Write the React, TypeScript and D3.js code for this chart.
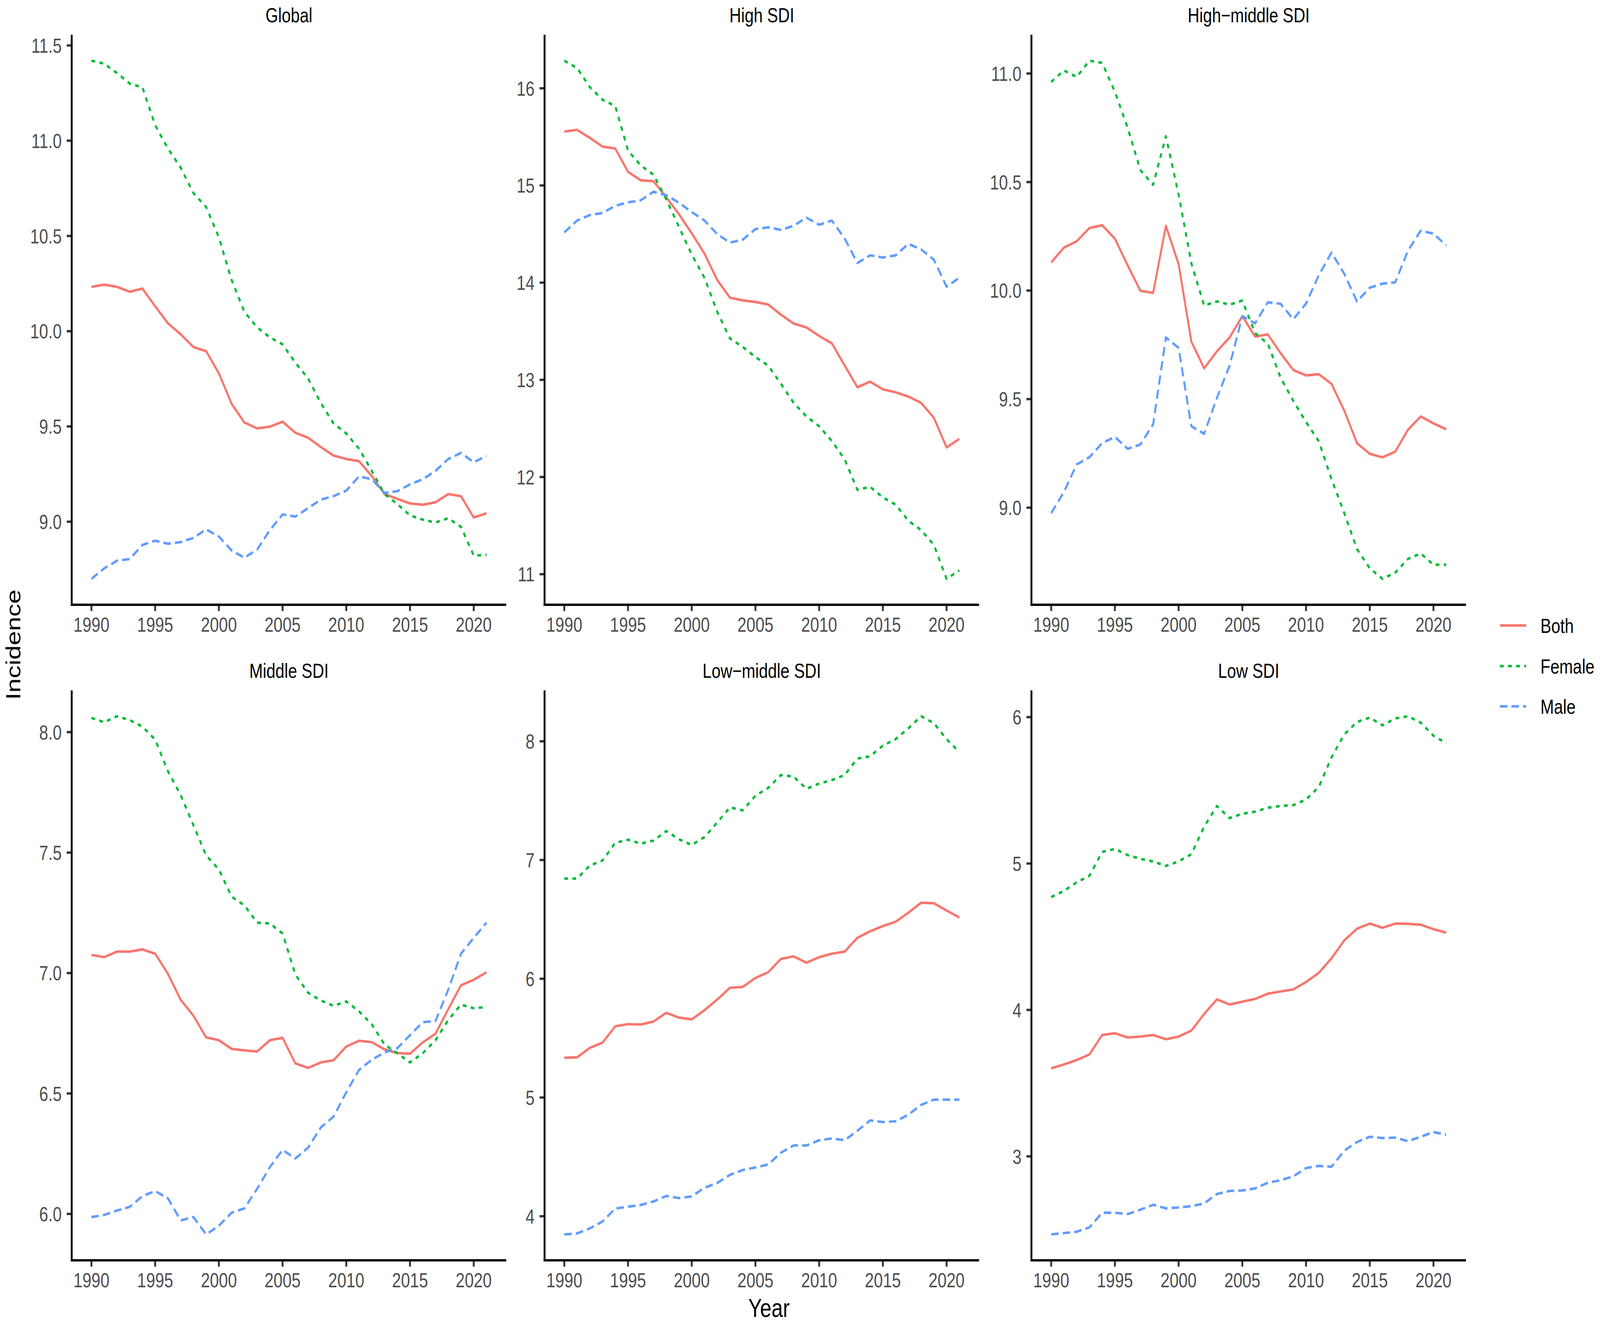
import React from "react";
import * as d3 from "d3";

const years = d3.range(1990, 2022);

const panelNames = ["Global", "High SDI", "High\u2212middle SDI", "Middle SDI", "Low\u2212middle SDI", "Low SDI"];
const seriesNames = ["Both", "Female", "Male"];
const seriesColors = ["#F8766D", "#00BA38", "#619CFF"];
const seriesDash = ["none", "12,14", "24,13"];

const globalBoth = [10.233,10.244,10.233,10.207,10.224,10.131,10.042,9.984,9.917,9.895,9.779,9.619,9.521,9.49,9.499,9.525,9.467,9.441,9.392,9.347,9.329,9.318,9.24,9.145,9.12,9.096,9.089,9.102,9.145,9.134,9.022,9.044];
const globalFemale = [11.42,11.404,11.355,11.3,11.28,11.081,10.959,10.859,10.725,10.652,10.492,10.269,10.102,10.02,9.968,9.931,9.835,9.752,9.623,9.516,9.463,9.383,9.267,9.145,9.093,9.033,9.011,8.996,9.018,8.973,8.822,8.826];
const globalMale = [8.7,8.755,8.795,8.804,8.878,8.9,8.884,8.893,8.915,8.96,8.922,8.849,8.811,8.853,8.956,9.038,9.027,9.071,9.116,9.134,9.163,9.238,9.223,9.151,9.16,9.196,9.223,9.267,9.329,9.361,9.312,9.345];

const highBoth = [15.555,15.572,15.49,15.4,15.38,15.14,15.053,15.044,14.879,14.704,14.508,14.298,14.028,13.845,13.818,13.801,13.775,13.67,13.579,13.539,13.452,13.374,13.147,12.924,12.981,12.902,12.872,12.828,12.763,12.61,12.305,12.392];
const highFemale = [16.284,16.209,16.013,15.882,15.817,15.359,15.206,15.11,14.857,14.573,14.29,14.05,13.7,13.426,13.339,13.234,13.147,12.959,12.763,12.623,12.523,12.37,12.182,11.868,11.899,11.79,11.716,11.55,11.454,11.302,10.952,11.039];
const highMale = [14.517,14.639,14.695,14.717,14.791,14.826,14.848,14.935,14.9,14.822,14.726,14.639,14.499,14.412,14.442,14.551,14.569,14.543,14.586,14.669,14.595,14.639,14.455,14.202,14.281,14.259,14.281,14.399,14.342,14.237,13.958,14.05];

const highMidBoth = [10.13,10.198,10.227,10.288,10.301,10.239,10.116,9.999,9.989,10.298,10.122,9.765,9.642,9.72,9.784,9.882,9.788,9.798,9.712,9.634,9.609,9.615,9.57,9.447,9.297,9.248,9.232,9.258,9.359,9.42,9.388,9.361];
const highMidFemale = [10.961,11.014,10.984,11.059,11.049,10.916,10.75,10.555,10.487,10.711,10.442,10.126,9.931,9.95,9.935,9.954,9.804,9.755,9.599,9.492,9.394,9.306,9.131,8.975,8.809,8.721,8.672,8.701,8.764,8.789,8.737,8.737];
const highMidMale = [8.975,9.072,9.199,9.232,9.297,9.326,9.271,9.291,9.384,9.784,9.736,9.375,9.34,9.505,9.654,9.882,9.849,9.946,9.939,9.868,9.94,10.071,10.175,10.077,9.95,10.013,10.032,10.038,10.184,10.276,10.262,10.208];

const middleBoth = [7.075,7.066,7.089,7.089,7.098,7.08,6.997,6.889,6.823,6.733,6.721,6.685,6.679,6.674,6.721,6.731,6.625,6.606,6.629,6.638,6.695,6.719,6.713,6.683,6.668,6.665,6.712,6.748,6.85,6.949,6.972,7.003];
const middleFemale = [8.059,8.041,8.066,8.05,8.023,7.969,7.838,7.739,7.614,7.488,7.43,7.317,7.281,7.209,7.206,7.164,6.994,6.918,6.886,6.864,6.882,6.841,6.787,6.703,6.667,6.629,6.667,6.721,6.805,6.869,6.854,6.859];
const middleMale = [5.987,5.996,6.014,6.029,6.074,6.095,6.065,5.973,5.987,5.915,5.951,6.005,6.023,6.104,6.194,6.266,6.23,6.275,6.359,6.404,6.505,6.598,6.64,6.67,6.688,6.742,6.796,6.801,6.931,7.08,7.146,7.209];

const lowMidBoth = [5.335,5.338,5.418,5.462,5.6,5.618,5.615,5.64,5.713,5.673,5.658,5.735,5.825,5.924,5.931,6.007,6.055,6.167,6.189,6.135,6.182,6.211,6.229,6.345,6.4,6.444,6.48,6.556,6.64,6.636,6.575,6.516];
const lowMidFemale = [6.844,6.844,6.953,6.996,7.145,7.171,7.138,7.164,7.244,7.175,7.127,7.193,7.316,7.444,7.418,7.542,7.607,7.716,7.702,7.6,7.644,7.673,7.716,7.855,7.873,7.964,8.018,8.109,8.211,8.153,8.018,7.909];
const lowMidMale = [3.847,3.855,3.898,3.956,4.065,4.08,4.095,4.124,4.171,4.153,4.167,4.24,4.28,4.349,4.389,4.411,4.436,4.535,4.596,4.596,4.64,4.655,4.64,4.72,4.807,4.793,4.8,4.855,4.938,4.982,4.982,4.982];

const lowBoth = [3.601,3.628,3.658,3.696,3.829,3.841,3.812,3.818,3.829,3.8,3.818,3.859,3.972,4.072,4.037,4.057,4.075,4.111,4.126,4.14,4.191,4.253,4.353,4.475,4.555,4.59,4.561,4.59,4.588,4.582,4.552,4.528];
const lowFemale = [4.771,4.813,4.872,4.916,5.079,5.1,5.058,5.032,5.014,4.984,5.014,5.064,5.251,5.393,5.31,5.34,5.354,5.381,5.393,5.399,5.437,5.523,5.725,5.882,5.967,5.997,5.944,5.991,6.006,5.962,5.873,5.822];
const lowMale = [2.467,2.476,2.485,2.515,2.615,2.615,2.606,2.636,2.669,2.645,2.651,2.66,2.678,2.743,2.764,2.767,2.781,2.82,2.837,2.864,2.92,2.935,2.929,3.039,3.098,3.134,3.125,3.128,3.104,3.134,3.166,3.148];

const panelSeries = [
  [globalBoth, globalFemale, globalMale],
  [highBoth, highFemale, highMale],
  [highMidBoth, highMidFemale, highMidMale],
  [middleBoth, middleFemale, middleMale],
  [lowMidBoth, lowMidFemale, lowMidMale],
  [lowBoth, lowFemale, lowMale],
];

const yTickValues = [
  [9.0, 9.5, 10.0, 10.5, 11.0, 11.5],
  [11, 12, 13, 14, 15, 16],
  [9.0, 9.5, 10.0, 10.5, 11.0],
  [6.0, 6.5, 7.0, 7.5, 8.0],
  [4, 5, 6, 7, 8],
  [3, 4, 5, 6],
];
const yTickDecimals = [1, 0, 1, 1, 0, 0];
const xTickValues = [1990, 1995, 2000, 2005, 2010, 2015, 2020];

const W = 5133;
const H = 3389;
const colLeft = [230, 1747, 3309];
const rowTop = [89, 1767];
const PW = 1394;
const PH = 1459;
const FONT = "'Liberation Sans', Arial, Helvetica, sans-serif";

function Panel({ idx }: { idx: number }) {
  const col = idx % 3;
  const row = Math.floor(idx / 3);
  const x0 = colLeft[col];
  const y0 = rowTop[row];
  const series = panelSeries[idx];
  const all = series.flat();
  const [mn, mx] = d3.extent(all) as [number, number];
  const pad = (mx - mn) * 0.05;
  const xs = d3.scaleLinear().domain([1990 - 31 * 0.05, 2021 + 31 * 0.05]).range([0, PW]);
  const ys = d3.scaleLinear().domain([mn - pad, mx + pad]).range([PH, 0]);
  const line = d3.line<number>().x((_, i) => xs(years[i])).y((v) => ys(v));
  return (
    <g transform={`translate(${x0},${y0})`}>
      <text x={PW / 2} y={-32} textAnchor="middle" fontSize={52} fill="#000" fontFamily={FONT}>
        {panelNames[idx]}
      </text>
      {series.map((vals, si) => (
        <path
          key={si}
          d={line(vals) || ""}
          fill="none"
          stroke={seriesColors[si]}
          strokeWidth={6.4}
          strokeDasharray={seriesDash[si]}
          strokeLinejoin="round"
        />
      ))}
      {yTickValues[idx].map((t) => (
        <g key={t} transform={`translate(0,${ys(t)})`}>
          <line x1={-16} x2={0} stroke="#333333" strokeWidth={6} />
          <text x={-32} dy="0.36em" textAnchor="end" fontSize={52} fill="#4D4D4D" fontFamily={FONT}>
            {t.toFixed(yTickDecimals[idx])}
          </text>
        </g>
      ))}
      {xTickValues.map((t) => (
        <g key={t} transform={`translate(${xs(t)},${PH})`}>
          <line y1={0} y2={16} stroke="#333333" strokeWidth={6} />
          <text y={69} textAnchor="middle" fontSize={52} fill="#4D4D4D" fontFamily={FONT}>
            {t}
          </text>
        </g>
      ))}
      <line x1={0} x2={0} y1={0} y2={PH + 3} stroke="#000" strokeWidth={6} />
      <line x1={-3} x2={PW} y1={PH} y2={PH} stroke="#000" strokeWidth={6} />
    </g>
  );
}

export default function App() {
  const legendY = [1601, 1705, 1808];
  return (
    <svg
      viewBox={`0 0 ${W} ${H}`}
      preserveAspectRatio="none"
      style={{ position: "fixed", left: 0, top: 0, width: "100vw", height: "100vh", display: "block", background: "#fff" }}
    >
      <rect x={0} y={0} width={W} height={H} fill="#fff" />
      {panelNames.map((_, i) => (
        <Panel key={i} idx={i} />
      ))}
      <text x={2467} y={3371} textAnchor="middle" fontSize={66} fill="#000" fontFamily={FONT}>
        Year
      </text>
      <text
        transform="translate(65,1650) rotate(-90)"
        textAnchor="middle"
        fontSize={66}
        fill="#000"
        fontFamily={FONT}
      >
        Incidence
      </text>
      {seriesNames.map((s, i) => (
        <g key={s}>
          <line
            x1={4812}
            x2={4896}
            y1={legendY[i]}
            y2={legendY[i]}
            stroke={seriesColors[i]}
            strokeWidth={6.4}
            strokeDasharray={seriesDash[i]}
          />
          <text x={4942} y={legendY[i]} dy="0.36em" fontSize={52} fill="#000" fontFamily={FONT}>
            {s}
          </text>
        </g>
      ))}
    </svg>
  );
}
